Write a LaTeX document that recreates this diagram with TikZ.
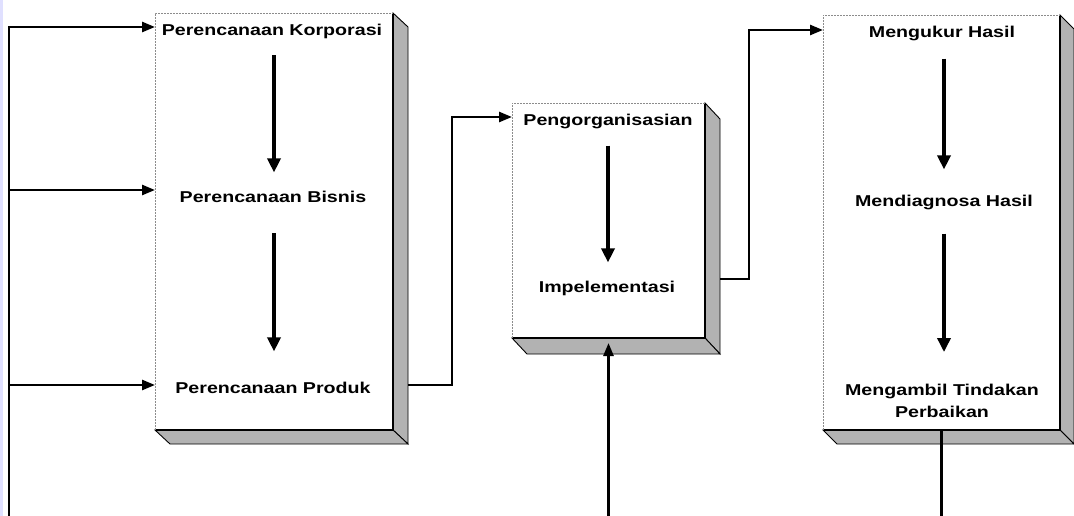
\documentclass[tikz,border=0pt]{standalone}
\usepackage{fontspec}
\newfontfamily\lblfont[FakeStretch=1.25]{Liberation Sans}
\usetikzlibrary{arrows.meta,calc}
\newcommand\bevelbox[3]{%
  \filldraw[bev] (#1.north east) -- ++(#2,#3) -- ($(#1.south east)+(#2,#3)$) -- (#1.south east) -- cycle;
  \filldraw[bev] (#1.south west) -- ++(#2,#3) -- ($(#1.south east)+(#2,#3)$) -- (#1.south east) -- cycle;
  \draw[line width=1.8pt] (#1.north east) -- (#1.south east) -- (#1.south west);
  \draw[black!45, line width=0.6pt, dash pattern=on 2pt off 1pt] (#1.south west) -- (#1.north west) -- (#1.north east);}
\begin{document}
\begin{tikzpicture}[x=1pt,y=-1pt,
  frontbox/.style={draw=none, fill=white, inner sep=0pt, outer sep=0pt, anchor=north west},
  bev/.style={fill=black!30, draw=black, line width=0.9pt},
  lbl/.style={font=\lblfont\bfseries\fontsize{15.7}{22}\selectfont, inner sep=0pt, align=center},
  conn/.style={line width=2.6pt, line join=miter, -{Triangle[length=13pt,width=10pt]}},
  inarrow/.style={line width=3.4pt, -{Triangle[length=14pt,width=13pt]}}]
\useasboundingbox (0,0) rectangle (1074,516);
\fill[blue!12!white] (0,0) rectangle (2.5,516);
% boxes
\node[frontbox, minimum width=238pt, minimum height=417pt] (lb) at (155,13) {};
\node[frontbox, minimum width=193pt, minimum height=235pt] (mb) at (512,103) {};
\node[frontbox, minimum width=237pt, minimum height=415pt] (rb) at (823,15) {};
\bevelbox{lb}{15}{14}
\bevelbox{mb}{15}{16}
\bevelbox{rb}{14}{14}
% texts
\node[lbl, anchor=base] (k1) at (272,36) {Perencanaan Korporasi};
\node[lbl, anchor=base] (k2) at (273,203) {Perencanaan Bisnis};
\node[lbl, anchor=base] (k3) at (273,393) {Perencanaan Produk};
\node[lbl, anchor=base] (m1) at (608,126) {Pengorganisasian};
\node[lbl, anchor=base] (m2) at (607,292) {Impelementasi};
\node[lbl, anchor=base] (r1) at (942,38) {Mengukur Hasil};
\node[lbl, anchor=base] (r2) at (944,207) {Mendiagnosa Hasil};
\node[lbl] (r3) at (942,401) {Mengambil Tindakan\\Perbaikan};
% inner arrows
\draw[inarrow, shorten <=16pt, shorten >=19pt] ($(k1.south)+(2,0)$) -- ($(k1.south |- k2.north)+(2,0)$);
\draw[inarrow, shorten <=30pt, shorten >=30pt] ($(k2.south)+(1,0)$) -- ($(k2.south |- k3.north)+(1,0)$);
\draw[inarrow, shorten <=16pt, shorten >=18pt] (m1.south) -- (m1.south |- m2.north);
\draw[inarrow, shorten <=17pt, shorten >=26pt] ($(r1.south)+(2,0)$) -- ($(r1.south |- r2.north)+(2,0)$);
\draw[inarrow, shorten <=23pt, shorten >=32pt] (r2.south) -- (r2.south |- r3.north);
% connectors
\coordinate (fb) at (9,516);
\coordinate (fy1) at (0,27);
\coordinate (fy2) at (0,190);
\coordinate (fy3) at (0,385);
\coordinate (c1) at (452,117);
\coordinate (fy4) at (0,279);
\coordinate (c2) at (749,30);
\draw[conn] (fb) |- (lb.west |- fy1);
\draw[conn] (fb |- fy2) -- (lb.west |- fy2);
\draw[conn] (fb |- fy3) -- (lb.west |- fy3);
\draw[conn] ($(lb.east |- fy3)+(15,0)$) -| (c1) -- (mb.west |- c1);
\draw[conn] ($(mb.east |- fy4)+(15,0)$) -| (c2) -- (rb.west |- c2);
\draw[conn] (mb.south |- fb) -- ($(mb.south)+(0,5)$);
\draw[line width=2.6pt] (rb.south) -- (rb.south |- fb);
\end{tikzpicture}
\end{document}
